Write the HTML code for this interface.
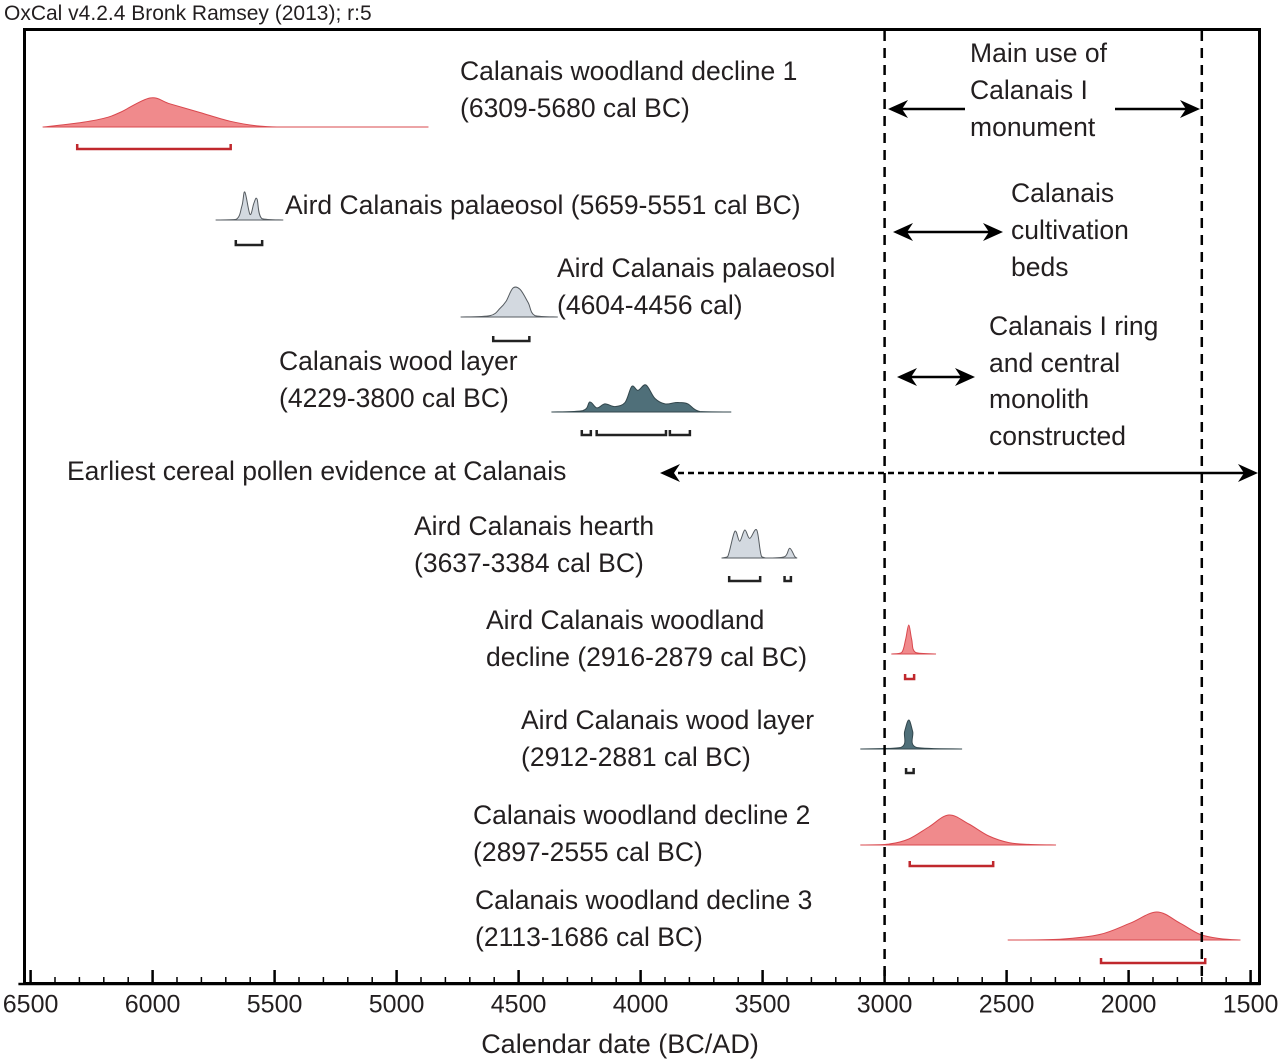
<!DOCTYPE html>
<html><head><meta charset="utf-8"><style>
html,body{margin:0;padding:0;background:#fff;}
svg{display:block;font-family:"Liberation Sans",Arial,sans-serif;}
text{fill:#231f20;font-size:26.5px;}
</style></head><body>
<svg id="chart" width="1283" height="1062" viewBox="0 0 1283 1062" xmlns="http://www.w3.org/2000/svg">
<text x="4" y="20" style="font-size:21px">OxCal v4.2.4 Bronk Ramsey (2013); r:5</text>
<rect x="24.5" y="29.5" width="1235" height="954" fill="none" stroke="#000" stroke-width="3"/>
<g id="dists"></g>
<g id="axis"></g>
<g dominant-baseline="middle">
<text x="460" y="73">Calanais woodland decline 1</text>
<text x="460" y="110">(6309-5680 cal BC)</text>
<text x="285" y="207">Aird Calanais palaeosol (5659-5551 cal BC)</text>
<text x="557" y="270">Aird Calanais palaeosol</text>
<text x="557" y="307">(4604-4456 cal)</text>
<text x="279" y="363">Calanais wood layer</text>
<text x="279" y="400">(4229-3800 cal BC)</text>
<text x="67" y="473">Earliest cereal pollen evidence at Calanais</text>
<text x="414" y="528">Aird Calanais hearth</text>
<text x="414" y="565">(3637-3384 cal BC)</text>
<text x="486" y="622">Aird Calanais woodland</text>
<text x="486" y="659">decline (2916-2879 cal BC)</text>
<text x="521" y="722">Aird Calanais wood layer</text>
<text x="521" y="759">(2912-2881 cal BC)</text>
<text x="473" y="817">Calanais woodland decline 2</text>
<text x="473" y="854">(2897-2555 cal BC)</text>
<text x="475" y="902">Calanais woodland decline 3</text>
<text x="475" y="939">(2113-1686 cal BC)</text>
<text x="970" y="55">Main use of</text>
<text x="970" y="92">Calanais I</text>
<text x="970" y="129">monument</text>
<text x="1011" y="195">Calanais</text>
<text x="1011" y="232">cultivation</text>
<text x="1011" y="269">beds</text>
<text x="989" y="328">Calanais I ring</text>
<text x="989" y="365">and central</text>
<text x="989" y="401">monolith</text>
<text x="989" y="438">constructed</text>
</g>
<g id="annot"></g>
<text x="620" y="1046" text-anchor="middle" dominant-baseline="middle" style="font-size:27px">Calendar date (BC/AD)</text>
</svg>
<script>
const NS="http://www.w3.org/2000/svg";
// axis
const tickMajor=[6500,6000,5500,5000,4500,4000,3500,3000,2500,2000,1500];
const tickLabels=["6500","6000","5500","5000","4500","4000","3500","3000","2500","2000","1500"];
// distributions: years, relative densities
const wd1Years=[6449,6298,6200,6134,6011,5929,5806,5683,5560,5396,4871];
const wd1Dens=[0,0.15,0.3,0.5,1,0.8,0.5,0.2,0.03,0,0];
const pal1Years=[5740,5658,5634,5622,5601,5585,5572,5552,5466];
const pal1Dens=[0,0.02,0.5,1,0.2,0.6,0.75,0.05,0];
const pal2Years=[4736,4617,4576,4551,4523,4494,4461,4433,4341];
const pal2Dens=[0,0.05,0.3,0.55,1,0.95,0.5,0.05,0];
const woodYears=[4364,4237,4208,4179,4146,4105,4064,4036,4011,3978,3941,3900,3859,3839,3806,3757,3630];
const woodDens=[0,0.05,0.37,0.15,0.3,0.2,0.35,0.95,0.8,1,0.5,0.3,0.35,0.35,0.3,0.02,0];
const hearthYears=[3667,3643,3614,3594,3573,3553,3524,3504,3471,3409,3389,3368,3360];
const hearthDens=[0,0.05,0.95,0.6,1,0.7,1,0.05,0,0.05,0.35,0.05,0];
const awdYears=[2971,2930,2914,2901,2889,2873,2791];
const awdDens=[0,0.05,0.5,1,0.5,0.05,0];
const awoodYears=[3098,2934,2918,2901,2885,2869,2684];
const awoodDens=[0,0.05,0.6,1,0.6,0.05,0];
const wd2Years=[3098,2983,2901,2819,2737,2655,2573,2491,2409,2299];
const wd2Dens=[0,0.03,0.2,0.6,1,0.7,0.3,0.08,0.02,0];
const wd3Years=[2494,2281,2117,1994,1884,1789,1707,1625,1543];
const wd3Dens=[0,0.03,0.2,0.6,1,0.6,0.2,0.05,0];
// ranges
const wd1Range=[[6309,5680]];
const pal1Range=[[5659,5551]];
const pal2Range=[[4604,4456]];
const woodRange=[[4241,4204],[4180,3896],[3880,3798]];
const hearthRange=[[3637,3510],[3410,3384]];
const awdRange=[[2916,2879]];
const awoodRange=[[2912,2881]];
const wd2Range=[[2897,2555]];
const wd3Range=[[2113,1686]];

const X=y=>30.6+(6500-y)*0.244;
const axisY=984;
const ax=document.getElementById('axis');
function mk(tag,attrs,parent){const e=document.createElementNS(NS,tag);for(const k in attrs)e.setAttribute(k,attrs[k]);parent.appendChild(e);return e;}
let t=mk('line',{x1:X(6550),x2:X(1460),y1:axisY,y2:axisY,stroke:'#000','stroke-width':2.5},ax);


for(let y=6500;y>=1500;y-=100){
  const maj=y%500===0;
  const l=mk('line',{x1:X(y),x2:X(y),y1:axisY,y2:axisY-(maj?14:7),stroke:'#000','stroke-width':maj?2.5:1.5},ax);
  
  
}
tickMajor.forEach((v,i)=>{
  const tx=mk('text',{x:X(v),y:1006,'text-anchor':'middle','dominant-baseline':'middle',style:'font-size:25px'},ax);
  tx.textContent=tickLabels[i];
  
  
});
const dg=document.getElementById('dists');
const PINK={fill:'#f08a8c',stroke:'#d9484e',br:'#c0282d'};
const GREY={fill:'#d3d9e0',stroke:'#555b60',br:'#222'};
const TEAL={fill:'#4f6f79',stroke:'#33474d',br:'#222'};
function dist(name,years,dens,base,h,col,ranges,by){
  const pts=years.map((y,i)=>[X(y),base-dens[i]*h]);
  let d='M'+pts[0][0].toFixed(1)+','+base+' L'+pts[0][0].toFixed(1)+','+pts[0][1].toFixed(1);
  for(let i=0;i<pts.length-1;i++){
    const p0=pts[Math.max(0,i-1)],p1=pts[i],p2=pts[i+1],p3=pts[Math.min(pts.length-1,i+2)];
    let c1y=p1[1]+(p2[1]-p0[1])/6,c2y=p2[1]-(p3[1]-p1[1])/6;
    c1y=Math.min(c1y,base);c2y=Math.min(c2y,base);
    d+=` C${(p1[0]+(p2[0]-p0[0])/6).toFixed(1)},${c1y.toFixed(1)} ${(p2[0]-(p3[0]-p1[0])/6).toFixed(1)},${c2y.toFixed(1)} ${p2[0].toFixed(1)},${p2[1].toFixed(1)}`;
  }
  d+=' L'+pts[pts.length-1][0].toFixed(1)+','+base+' Z';
  const p=mk('path',{d:d,fill:col.fill,stroke:col.stroke,'stroke-width':1,'stroke-linejoin':'round'},dg);
  
  
  ranges.forEach(r=>{
    const x1=X(r[0]),x2=X(r[1]);
    const b=mk('path',{d:`M${x1},${by-5} L${x1},${by} L${x2},${by} L${x2},${by-5}`,fill:'none',stroke:col.br,'stroke-width':2.5},dg);
    
    
  });
}
dist('wd1',wd1Years,wd1Dens,127,29,PINK,wd1Range,149);
dist('palaeosol1',pal1Years,pal1Dens,220,28,GREY,pal1Range,245);
dist('palaeosol2',pal2Years,pal2Dens,317,29,GREY,pal2Range,341);
dist('wood-layer',woodYears,woodDens,412,27,TEAL,woodRange,435);
dist('hearth',hearthYears,hearthDens,558,28,GREY,hearthRange,581);
dist('aird-wd',awdYears,awdDens,654,29,PINK,awdRange,679);
dist('aird-wood',awoodYears,awoodDens,749,29,TEAL,awoodRange,773);
dist('wd2',wd2Years,wd2Dens,845,30,PINK,wd2Range,866);
dist('wd3',wd3Years,wd3Dens,940,28,PINK,wd3Range,963);

const an=document.getElementById('annot');
[3000,1700].forEach(y=>{
  const l=mk('line',{x1:X(y),x2:X(y),y1:31,y2:982,stroke:'#000','stroke-width':2.5,'stroke-dasharray':'10 7'},an);
  
  
});
function head(x,y,dir){
  const p=mk('path',{d:`M${x},${y} L${x-dir*20},${y-9} L${x-dir*14},${y} L${x-dir*20},${y+9} Z`,fill:'#000'},an);
  
  
}
function seg(x1,x2,y,dash,name){
  const l=mk('line',{x1:x1,x2:x2,y1:y,y2:y,stroke:'#000','stroke-width':2.5},an);
  if(dash)l.setAttribute('stroke-dasharray','6 4');
  
  
}
seg(895,965,109,false,'main-use-arrow-left');head(888,109,-1);
seg(1115,1192,109,false,'main-use-arrow-right');head(1200,109,1);
seg(900,995,232,false,'cultivation-arrow');head(893,232,-1);head(1003,232,1);
seg(904,968,377,false,'ring-arrow');head(897,377,-1);head(975,377,1);
seg(668,1000,473,true,'cereal-pollen-dashed');seg(1000,1250,473,false,'cereal-pollen-solid');
head(660,473,-1);head(1258,473,1);
</script>
</body></html>
